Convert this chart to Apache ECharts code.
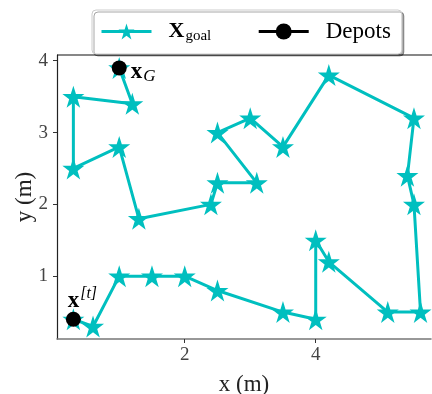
<!DOCTYPE html>
<html>
<head>
<meta charset="utf-8">
<script src="https://cdn.jsdelivr.net/npm/echarts@6/dist/echarts.min.js"></script>
<style>
html, body { margin: 0; padding: 0; background: #fff; }
#chart { width: 432px; height: 394px; }
</style>
</head>
<body>
<div id="chart"></div>
<script>
// route through the goals (x, y in metres)
var goalX = [0.3, 0.6, 1.0, 1.5, 2.0, 2.5, 3.5, 4.0, 4.0, 4.2, 5.1, 5.6, 5.5, 5.4, 5.5, 4.2, 3.5, 3.0, 2.5, 3.1, 2.5, 2.4, 1.3, 1.0, 0.3, 0.3, 1.2, 1.0];
var goalY = [0.4, 0.3, 1.0, 1.0, 1.0, 0.8, 0.5, 0.4, 1.5, 1.2, 0.5, 0.5, 2.0, 2.4, 3.2, 3.8, 2.8, 3.2, 3.0, 2.3, 2.3, 2.0, 1.8, 2.8, 2.5, 3.5, 3.4, 3.9];
// depots: start x^[t] and end x_G
var depotX = [0.3, 1.0];
var depotY = [0.4, 3.9];
var xTicks = [2, 4];
var yTicks = [1, 2, 3, 4];

var cyan = '#00BFBF';
var font = 'Liberation Serif';
var star = 'path://M50,0 L61.2,34.5 L97.6,34.5 L68.2,55.9 L79.4,90.5 L50,69.1 L20.6,90.5 L31.8,55.9 L2.4,34.5 L38.8,34.5 Z';

var goalData = goalX.map(function (x, i) { return [x, goalY[i]]; });

// break between the two depots so no line joins them
var depotData = [
    {
        value: [depotX[0], depotY[0]],
        label: {
            show: true, position: 'top', distance: 2, offset: [9, 6],
            formatter: '{b|x}{sup|[t]}'
        }
    },
    ['-', '-'],
    {
        value: [depotX[1], depotY[1]],
        label: {
            show: true, position: 'right', distance: 4, offset: [0, 4],
            formatter: '{b|x}{sub|G}'
        }
    }
];

var rich = {
    b: { fontFamily: font, fontWeight: 'bold', fontSize: 23, color: '#000' },
    sub: { fontFamily: font, fontStyle: 'italic', fontSize: 17, color: '#000', padding: [10, 0, 0, 1] },
    sup: { fontFamily: font, fontStyle: 'italic', fontSize: 16, color: '#000', padding: [0, 0, 14, 1] },
    lg: { fontFamily: font, fontWeight: 'bold', fontSize: 22, color: '#000' },
    lgs: { fontFamily: font, fontSize: 15, color: '#000', padding: [10, 0, 0, 1] },
    dp: { fontFamily: font, fontSize: 23, color: '#000' }
};

var chart = echarts.init(document.getElementById('chart'));

chart.setOption({
    animation: false,
    backgroundColor: '#fff',
    grid: { left: 57, right: 1, top: 55, bottom: 55, containLabel: false, outerBoundsMode: 'none' },
    legend: {
        left: 92,
        top: 10,
        padding: [10, 11, 10, 8],
        itemWidth: 50,
        itemHeight: 20,
        itemGap: 46,
        backgroundColor: '#fff',
        borderColor: '#cccccc',
        borderWidth: 1,
        borderRadius: 4,
        shadowColor: 'rgba(0,0,0,0.35)',
        shadowBlur: 0,
        shadowOffsetX: 2,
        shadowOffsetY: 2,
        lineStyle: { width: 3 },
        textStyle: { padding: [0, 0, 0, 12], rich: rich },
        formatter: function (name) {
            return name === 'goal' ? '{lg|X}{lgs|goal}' : '{dp|Depots}';
        },
        data: ['goal', 'Depots']
    },
    xAxis: {
        type: 'value',
        min: 0.05,
        max: 5.76,
        name: 'x (m)',
        nameLocation: 'middle',
        nameGap: 34,
        nameMoveOverlap: false,
        nameTextStyle: { fontFamily: font, fontSize: 23, color: '#222' },
        axisLine: { show: true, lineStyle: { color: '#777', width: 1.5 } },
        axisTick: { show: true, length: 4, customValues: xTicks, lineStyle: { color: '#333' } },
        axisLabel: { customValues: xTicks, margin: 7, fontFamily: font, fontSize: 19, color: '#444' },
        splitLine: { show: false }
    },
    yAxis: {
        type: 'value',
        min: 0.125,
        max: 4.08,
        name: 'y (m)',
        nameLocation: 'middle',
        nameGap: 21,
        nameRotate: 90,
        nameMoveOverlap: false,
        nameTextStyle: { fontFamily: font, fontSize: 23, color: '#222' },
        axisLine: { show: true, lineStyle: { color: '#222', width: 1.2 } },
        axisTick: { show: true, length: 4, customValues: yTicks, lineStyle: { color: '#333' } },
        axisLabel: { customValues: yTicks, margin: 9, fontFamily: font, fontSize: 19, color: '#444' },
        splitLine: { show: false }
    },
    graphic: [
        // top spine of the axes box
        { type: 'line', shape: { x1: 57, y1: 55, x2: 432, y2: 55 }, style: { stroke: '#111', lineWidth: 1.2 }, z: 1 }
    ],
    series: [
        {
            name: 'goal',
            type: 'line',
            data: goalData,
            symbol: star,
            symbolSize: 22,
            showAllSymbol: true,
            itemStyle: { color: cyan },
            lineStyle: { color: cyan, width: 3 },
            z: 2
        },
        {
            name: 'Depots',
            type: 'line',
            data: depotData,
            connectNulls: false,
            symbol: 'circle',
            symbolSize: 15,
            itemStyle: { color: '#000' },
            lineStyle: { color: '#000', width: 3 },
            label: { rich: rich },
            z: 3
        }
    ]
});
</script>
</body>
</html>
